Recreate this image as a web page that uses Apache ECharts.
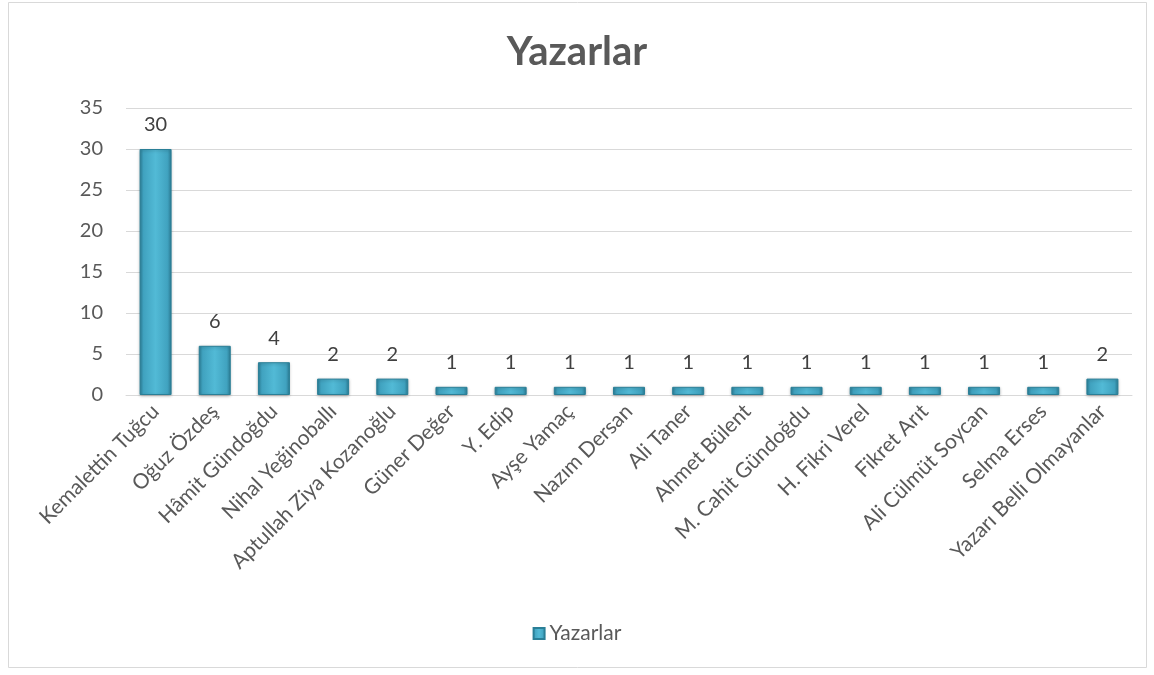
<!DOCTYPE html>
<html>
<head>
<meta charset="utf-8">
<script src="https://cdn.jsdelivr.net/npm/echarts@6/dist/echarts.min.js"></script>
<style>
  html, body { margin: 0; padding: 0; background: #fff; }
  #main { width: 1154px; height: 675px; }
</style>
</head>
<body>
<div id="main"></div>
<script>
// yazar adlari
const categories = [
    'Kemalettin Tuğcu', 'Oğuz Özdeş', 'Hâmit Gündoğdu', 'Nihal Yeğinoballı',
    'Aptullah Ziya Kozanoğlu', 'Güner Değer', 'Y. Edip', 'Ayşe Yamaç',
    'Nazım Dersan', 'Ali Taner', 'Ahmet Bülent', 'M. Cahit Gündoğdu',
    'H. Fikri Verel', 'Fikret Arıt', 'Ali Cülmüt Soycan', 'Selma Erses',
    'Yazarı Belli Olmayanlar'
];
const values = [30, 6, 4, 2, 2, 1, 1, 1, 1, 1, 1, 1, 1, 1, 1, 1, 2];
const seriesName = 'Yazarlar';

const font = 'Lato, "Open Sans", sans-serif';

const chart = echarts.init(document.getElementById('main'));

// bar kabartma efekti
const barColor = new echarts.graphic.LinearGradient(0, 0, 1, 0, [
    { offset: 0, color: '#2c8099' },
    { offset: 0.12, color: '#40a2bf' },
    { offset: 0.5, color: '#52bad6' },
    { offset: 0.88, color: '#40a2bf' },
    { offset: 1, color: '#2c8099' }
]);

let option = {
    animation: false,
    backgroundColor: '#fff',
    graphic: [{
        type: 'rect',
        shape: { x: 8.5, y: 2.5, width: 1138, height: 665 },
        style: { fill: 'none', stroke: '#d9d9d9', lineWidth: 1 },
        silent: true
    }],
    title: {
        text: 'Yazarlar',
        left: 'center',
        top: 27,
        textStyle: { fontFamily: font, fontSize: 40, fontWeight: 'bold', color: '#595959' }
    },
    legend: {
        bottom: 26,
        left: 'center',
        itemWidth: 11,
        itemHeight: 11,
        itemGap: 3,
        icon: 'rect',
        textStyle: { fontFamily: font, fontSize: 21, color: '#595959' },
        data: [seriesName]
    },
    grid: {
        left: 126,
        right: 22,
        top: 108,
        height: 287,
        containLabel: false
    },
    xAxis: {
        type: 'category',
        data: categories,
        axisLine: { lineStyle: { color: '#d9d9d9' } },
        axisTick: { show: false },
        axisLabel: {
            rotate: 45,
            interval: 0,
            margin: 13,
            fontFamily: font,
            fontSize: 21,
            color: '#595959'
        }
    },
    yAxis: {
        type: 'value',
        min: 0,
        max: 35,
        interval: 5,
        axisLine: { show: false },
        axisTick: { show: false },
        splitLine: { lineStyle: { color: '#d9d9d9' } },
        axisLabel: { fontFamily: font, fontSize: 20, color: '#595959', margin: 23 }
    },
    series: [{
        name: seriesName,
        type: 'bar',
        data: values,
        barWidth: 32,
        itemStyle: {
            color: barColor,
            borderColor: '#2a7f97',
            borderWidth: 1,
            shadowColor: 'rgba(0,0,0,0.25)',
            shadowBlur: 3,
            shadowOffsetY: 1
        },
        label: {
            show: true,
            position: 'top',
            distance: 14,
            fontFamily: font,
            fontSize: 20,
            color: '#404040'
        }
    }]
};

chart.setOption(option);
</script>
</body>
</html>
